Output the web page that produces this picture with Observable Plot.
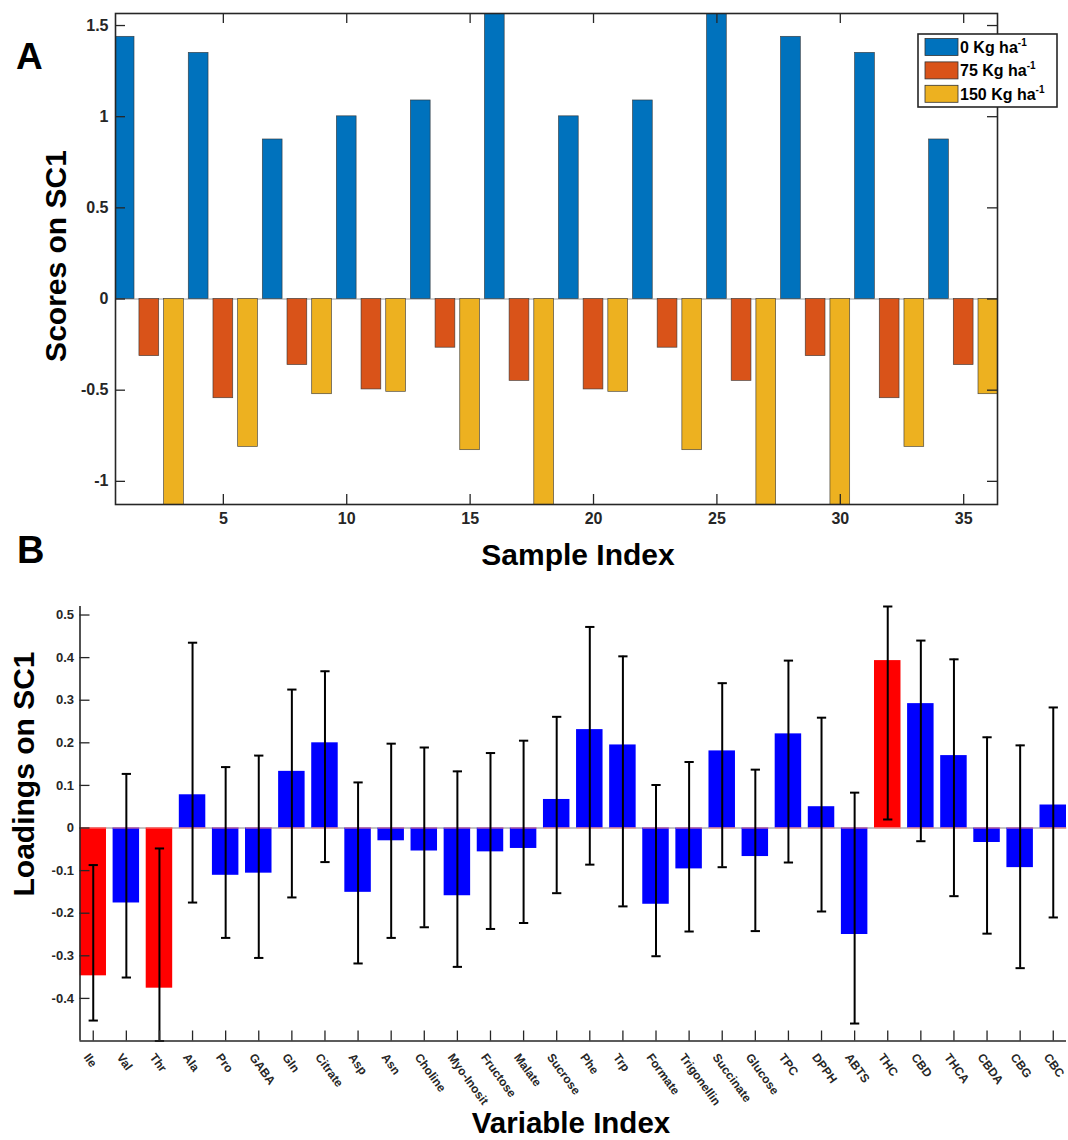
<!DOCTYPE html>
<html>
<head>
<meta charset="utf-8">
<script src="https://cdn.jsdelivr.net/npm/d3@7"></script>
<script src="https://cdn.jsdelivr.net/npm/@observablehq/plot@0.6"></script>
<style>
  body { margin: 0; background: #fff; }
  #wrap { position: relative; width: 1068px; height: 1140px; overflow: hidden; background: #fff;
          font-family: "Liberation Sans", Arial, Helvetica, sans-serif; }
  #wrap > svg { position: absolute; left: 0; }
</style>
</head>
<body>
<div id="wrap"></div>
<script>
// ---------------- Panel A data ----------------
const seriesNames = ["0 Kg ha", "75 Kg ha", "150 Kg ha"];
const seriesColors = ["#0072BD", "#D95319", "#EDB120"];
const scores0   = [1.438, 1.350, 0.875, 1.002, 1.089, 1.60, 1.002, 1.089, 1.60, 1.438, 1.350, 0.875];
const scores75  = [-0.313, -0.544, -0.362, -0.496, -0.267, -0.449, -0.496, -0.267, -0.449, -0.313, -0.544, -0.362];
const scores150 = [-1.15, -0.811, -0.522, -0.509, -0.829, -1.15, -0.509, -0.829, -1.15, -1.15, -0.811, -0.522];
const xTicksA = [5, 10, 15, 20, 25, 30, 35];
const yTicksA = [-1, -0.5, 0, 0.5, 1, 1.5];

// ---------------- Panel B data ----------------
const variables = ["Ile","Val","Thr","Ala","Pro","GABA","Gln","Citrate","Asp","Asn","Choline","Myo-Inosit",
  "Fructose","Malate","Sucrose","Phe","Trp","Formate","Trigonellin","Succinate","Glucose","TPC","DPPH","ABTS",
  "THC","CBD","THCA","CBDA","CBG","CBC"];
const loadings = [-0.347, -0.176, -0.376, 0.078, -0.111, -0.106, 0.133, 0.200, -0.151, -0.030, -0.054, -0.159,
  -0.056, -0.048, 0.067, 0.231, 0.195, -0.179, -0.096, 0.181, -0.067, 0.221, 0.050, -0.250,
  0.393, 0.292, 0.170, -0.034, -0.093, 0.054];
const errLow = [-0.452, -0.351, -0.500, -0.175, -0.258, -0.305, -0.163, -0.080, -0.318, -0.258, -0.233, -0.326,
  -0.237, -0.223, -0.153, -0.086, -0.184, -0.301, -0.243, -0.092, -0.242, -0.081, -0.196, -0.459,
  0.020, -0.031, -0.160, -0.248, -0.329, -0.210];
const errHigh = [-0.087, 0.127, -0.048, 0.435, 0.143, 0.170, 0.325, 0.368, 0.107, 0.198, 0.189, 0.133,
  0.176, 0.205, 0.261, 0.472, 0.403, 0.101, 0.155, 0.340, 0.137, 0.393, 0.259, 0.083,
  0.520, 0.440, 0.396, 0.213, 0.194, 0.283];
const highlighted = ["Ile", "Thr", "THC"];
const yTicksB = [-0.4, -0.3, -0.2, -0.1, 0, 0.1, 0.2, 0.3, 0.4, 0.5];

// ---------------- build tables ----------------
const scoreData = [];
scores0.forEach((v, g) => {
  scoreData.push({i: 3 * g + 1, v: scores0[g], k: 0});
  scoreData.push({i: 3 * g + 2, v: scores75[g], k: 1});
  scoreData.push({i: 3 * g + 3, v: scores150[g], k: 2});
});
const loadData = variables.map((name, j) => ({
  i: j + 1, name, v: loadings[j], lo: errLow[j], hi: errHigh[j],
  color: highlighted.includes(name) ? "#ff0000" : "#0000ff"
}));

const FONT = '"Liberation Sans", Arial, Helvetica, sans-serif';
const W = 1068;
const wrap = document.getElementById("wrap");

// ---------------- Panel A ----------------
const A = {left: 115, right: 997, top: 13, bottom: 504, h: 580};
const AxDom = [0.63, 36.37], AyDom = [-1.127, 1.566];
const AplotW = A.right - A.left, AplotH = A.bottom - A.top;
const tickStyle = {stroke: "#262626", strokeWidth: 1.3};
const lblStyle = {fill: "#262626", fontWeight: "bold", fontFamily: FONT};

const plotA = Plot.plot({
  width: W, height: A.h,
  marginLeft: A.left, marginRight: W - A.right, marginTop: A.top, marginBottom: A.h - A.bottom,
  style: {background: "transparent", overflow: "visible", fontFamily: FONT},
  x: {domain: AxDom, axis: null},
  y: {domain: AyDom, axis: null},
  color: {type: "identity"},
  marks: [
    Plot.ruleY([0], {stroke: "#9a9a9a", strokeWidth: 1}),
    Plot.rectY(scoreData, {x1: d => d.i - 0.4, x2: d => d.i + 0.4, y1: 0, y2: "v",
      fill: d => seriesColors[d.k], stroke: "#333", strokeWidth: 0.7, strokeOpacity: 0.85, clip: true}),
    Plot.tickY(yTicksA, {y: d => d, insetRight: AplotW - 10, ...tickStyle}),
    Plot.tickY(yTicksA, {y: d => d, insetLeft: AplotW - 10, ...tickStyle}),
    Plot.tickX(xTicksA, {x: d => d, insetTop: AplotH - 10, ...tickStyle}),
    Plot.tickX(xTicksA, {x: d => d, insetBottom: AplotH - 10, ...tickStyle}),
    Plot.frame({stroke: "#262626", strokeWidth: 1.6}),
    Plot.text(yTicksA, {x: AxDom[0], y: d => d, text: d => String(d), textAnchor: "end", dx: -7,
      fontSize: 16, ...lblStyle}),
    Plot.text(xTicksA, {x: d => d, y: AyDom[0], text: d => String(d), lineAnchor: "top", dy: 8,
      fontSize: 16, ...lblStyle})
  ]
});
plotA.style.top = "0px";
wrap.appendChild(plotA);

// ---------------- Panel B ----------------
const B = {top: 580, h: 560, left: 79.5, right: 1066, ptop: 606, pbottom: 1040.5};
const BxDom = [0.6, 30.4], ByDom = [-0.5, 0.52];
const BplotW = B.right - B.left, BplotH = B.pbottom - B.ptop;
const capHalf = 0.14;

const plotB = Plot.plot({
  width: W, height: B.h,
  marginLeft: B.left, marginRight: W - B.right, marginTop: B.ptop - B.top, marginBottom: B.top + B.h - B.pbottom,
  style: {background: "transparent", overflow: "visible", fontFamily: FONT},
  x: {domain: BxDom, axis: null},
  y: {domain: ByDom, axis: null},
  color: {type: "identity"},
  marks: [
    Plot.ruleY([0], {stroke: "#b0b0b0", strokeWidth: 1.6}),
    Plot.rectY(loadData, {x1: d => d.i - 0.4, x2: d => d.i + 0.4, y1: 0, y2: "v", fill: "color", clip: true}),
    Plot.link(loadData, {x1: d => d.i - 0.4, x2: d => d.i + 0.4, y1: 0, y2: 0, stroke: "#ff8080", strokeWidth: 1}),
    Plot.ruleX(loadData, {x: "i", y1: "lo", y2: "hi", stroke: "#000", strokeWidth: 2, clip: true}),
    Plot.link(loadData, {x1: d => d.i - capHalf, x2: d => d.i + capHalf, y1: "hi", y2: "hi", stroke: "#000", strokeWidth: 2}),
    Plot.link(loadData, {x1: d => d.i - capHalf, x2: d => d.i + capHalf, y1: "lo", y2: "lo", stroke: "#000", strokeWidth: 2}),
    Plot.ruleX([BxDom[0]], {stroke: "#262626", strokeWidth: 1.6}),
    Plot.ruleY([ByDom[0]], {stroke: "#262626", strokeWidth: 1.6}),
    Plot.tickY(yTicksB, {y: d => d, insetRight: BplotW - 10, ...tickStyle}),
    Plot.tickX(loadData, {x: "i", insetTop: BplotH - 10, ...tickStyle}),
    Plot.text(yTicksB, {x: BxDom[0], y: d => d, text: d => String(d), textAnchor: "end", dx: -6,
      fontSize: 13, ...lblStyle}),
    Plot.text(loadData, {x: "i", y: ByDom[0], text: "name", rotate: 54, textAnchor: "start",
      lineAnchor: "middle", dx: -7, dy: 14, fontSize: 12, ...lblStyle})
  ]
});
plotB.style.top = B.top + "px";
wrap.appendChild(plotB);

// ---------------- overlay: titles, panel letters, legend ----------------
const ov = d3.select(wrap).append("svg")
  .attr("width", W).attr("height", 1140)
  .style("top", "0px").style("pointer-events", "none")
  .attr("font-family", FONT).attr("font-weight", "bold");

ov.append("text").attr("x", 16).attr("y", 69).attr("font-size", 37).text("A");
ov.append("text").attr("x", 17).attr("y", 563).attr("font-size", 38).text("B");
ov.append("text").attr("x", 578).attr("y", 565).attr("font-size", 30).attr("text-anchor", "middle").text("Sample Index");
ov.append("text").attr("x", 571).attr("y", 1133).attr("font-size", 29.5).attr("text-anchor", "middle").text("Variable Index");
ov.append("text").attr("transform", "translate(66,256) rotate(-90)").attr("font-size", 30)
  .attr("text-anchor", "middle").text("Scores on SC1");
ov.append("text").attr("transform", "translate(33.5,774) rotate(-90)").attr("font-size", 30)
  .attr("text-anchor", "middle").text("Loadings on SC1");

// legend
const lg = ov.append("g").attr("transform", "translate(918,34)");
lg.append("rect").attr("width", 139).attr("height", 73).attr("fill", "#fff")
  .attr("stroke", "#262626").attr("stroke-width", 1.6);
seriesNames.forEach((name, k) => {
  const y0 = 4.5 + k * 23.4;
  lg.append("rect").attr("x", 7).attr("y", y0).attr("width", 33).attr("height", 17)
    .attr("fill", seriesColors[k]).attr("stroke", "#333").attr("stroke-width", 0.8);
  const t = lg.append("text").attr("x", 42).attr("y", y0 + 14.5).attr("font-size", 16).attr("fill", "#000");
  t.append("tspan").text(name);
  t.append("tspan").attr("font-size", 10).attr("dy", -7).text("-1");
});
</script>
</body>
</html>
